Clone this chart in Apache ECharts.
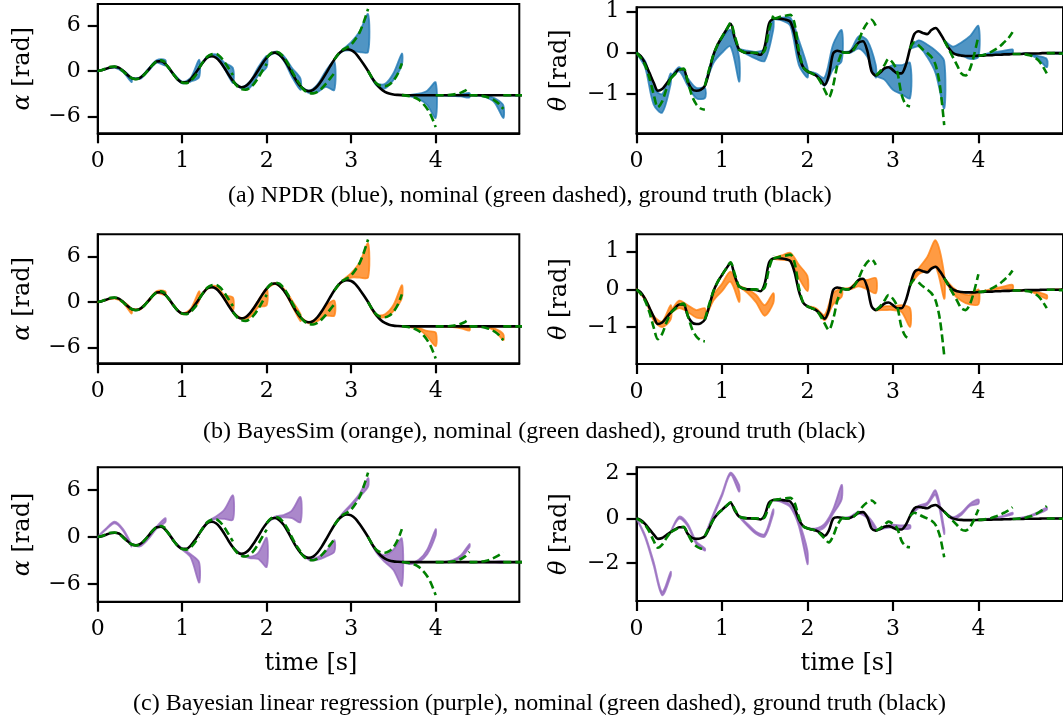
<!DOCTYPE html>
<html><head><meta charset="utf-8">
<script src="https://cdn.jsdelivr.net/npm/echarts@6/dist/echarts.min.js"></script>
<style>html,body{margin:0;padding:0;background:#fff}#c{width:1063px;height:719px}</style>
</head><body><div id="c"></div>
<script>
// ---------------- data ----------------
const SEG_LEN = 0.4, GT_DT = 0.05, NOM_DT = 0.05, BND_DT = 0.1;
const xTicks = [0, 1, 2, 3, 4];
const alphaTicks = [-6, 0, 6];
const thetaTicksAB = [-1, 0, 1];
const thetaTicksC = [-2, 0, 2];

// ground truth, sampled every 0.05 s from t = 0
const gtAlpha = [0.00,0.10,0.30,0.48,0.55,0.45,0.05,-0.50,-0.92,-1.05,-0.90,-0.45,0.15,0.80,1.25,1.30,0.95,0.30,-0.50,-1.15,
 -1.50,-1.50,-1.10,-0.40,0.40,1.20,1.80,1.95,1.75,1.20,0.40,-0.50,-1.30,-1.90,-2.15,-2.00,-1.50,-0.75,0.10,1.00,
 1.75,2.30,2.42,2.15,1.55,0.70,-0.30,-1.25,-2.00,-2.50,-2.65,-2.50,-2.00,-1.25,-0.35,0.60,1.50,2.25,2.70,2.86,
 2.75,2.35,1.65,0.85,0.00,-0.95,-1.75,-2.35,-2.75,-2.98,-3.10,-3.15,-3.18,-3.20,-3.20,-3.20,-3.20,-3.20,-3.20,-3.20,
 -3.20,-3.20,-3.20,-3.20,-3.20,-3.20,-3.20,-3.20,-3.20,-3.20,-3.20,-3.20,-3.20,-3.20,-3.20,-3.20,-3.20,-3.20,-3.20,-3.20,
 -3.20,-3.20,-3.20,-3.20,-3.20];
const gtTheta = [0.00,-0.08,-0.25,-0.48,-0.72,-0.92,-0.88,-0.75,-0.62,-0.50,-0.40,-0.40,-0.70,-0.88,-0.92,-0.90,-0.80,-0.45,-0.05,0.20,
 0.38,0.55,0.70,0.35,0.08,0.02,0.00,0.00,-0.02,-0.05,0.15,0.70,0.82,0.83,0.82,0.80,0.75,0.45,-0.05,-0.35,
 -0.45,-0.50,-0.55,-0.65,-0.78,-0.55,-0.02,0.05,0.02,0.00,0.02,0.12,0.25,0.28,0.05,-0.45,-0.55,-0.48,-0.38,-0.35,
 -0.42,-0.50,-0.50,-0.30,0.10,0.45,0.52,0.48,0.45,0.55,0.60,0.48,0.30,0.12,0.00,-0.05,-0.07,-0.08,-0.08,-0.08,
 -0.07,-0.07,-0.06,-0.06,-0.05,-0.05,-0.04,-0.04,-0.03,-0.03,-0.03,-0.02,-0.02,-0.02,-0.02,-0.01,-0.01,-0.01,-0.01,-0.01,
 0,0,0,0,0];

// nominal model, restarted every 0.4 s, sampled every 0.05 s
const nomAlpha = [
 [0.00,0.12,0.35,0.55,0.58,0.40,-0.05,-0.55,-0.95],
 [-0.92,-1.08,-0.95,-0.50,0.15,0.80,1.28,1.40,1.15],
 [0.95,0.30,-0.50,-1.15,-1.52,-1.60,-1.30,-0.70,0.05],
 [0.40,1.25,1.90,2.20,2.25,1.90,1.20,0.35,-0.55],
 [-1.30,-2.00,-2.38,-2.48,-2.25,-1.70,-0.90,0.05,0.95],
 [1.75,2.35,2.55,2.40,1.85,1.00,-0.05,-1.05,-1.85],
 [-2.00,-2.60,-2.90,-2.95,-2.75,-2.30,-1.70,-1.00,-0.30],
 [1.50,2.25,2.80,3.10,3.50,4.20,5.10,6.50,8.20],
 [0.00,-0.95,-1.65,-1.95,-2.00,-1.80,-1.30,-0.40,1.00],
 [-3.18,-3.25,-3.35,-3.50,-3.80,-4.30,-5.00,-6.00,-7.40],
 [-3.20,-3.20,-3.20,-3.18,-3.12,-3.02,-2.85,-2.60,-2.20],
 [-3.20,-3.20,-3.22,-3.28,-3.40,-3.60,-3.90,-4.35,-5.00],
 [-3.20,-3.20,-3.20,-3.20,-3.20,-3.20,-3.20,-3.20,-3.20]];
const nomTheta = [
 [0.00,-0.12,-0.30,-0.60,-1.00,-1.32,-1.18,-0.88,-0.62],
 [-0.62,-0.52,-0.42,-0.38,-0.70,-1.05,-1.25,-1.35,-1.38],
 [-0.80,-0.40,-0.05,0.20,0.38,0.55,0.72,0.40,0.05],
 [0.08,0.02,0.00,0.00,0.00,-0.02,0.05,0.55,0.90],
 [0.82,0.85,0.88,0.90,0.92,0.70,0.05,-0.35,-0.45],
 [-0.45,-0.50,-0.55,-0.70,-0.90,-1.08,-0.80,-0.30,0.00],
 [0.02,0.00,0.00,0.10,0.30,0.55,0.72,0.80,0.65],
 [-0.55,-0.45,-0.30,-0.15,-0.25,-0.45,-1.00,-1.25,-1.30],
 [0.10,0.25,0.18,0.08,0.00,-0.10,-0.30,-0.80,-1.75],
 [0.30,0.10,-0.10,-0.30,-0.50,-0.55,-0.40,-0.05,0.40],
 [-0.07,-0.06,-0.03,0.02,0.08,0.15,0.25,0.35,0.50],
 [-0.03,-0.03,-0.03,-0.04,-0.06,-0.10,-0.18,-0.32,-0.50],
 [-0.01,-0.01,-0.01,-0.02,-0.02,-0.03,-0.04,-0.05,-0.06]];
// nominal rollouts that differ in row (c)
const nomAlphaC10 = [-3.20,-3.20,-3.20,-3.18,-3.12,-3.00,-2.80,-2.45,-1.90];
const nomAlphaC11 = [-3.20,-3.20,-3.18,-3.12,-3.02,-2.85,-2.60,-2.30,-1.90];
const nomThetaC11 = [-0.03,-0.02,0.00,0.03,0.08,0.15,0.25,0.38,0.55];

// sample envelopes (low / high) per 0.4 s segment, sampled every 0.1 s
const npdrAlphaLo = [[0,0.25,0.45,-0.15,-1.45],[-0.92,-1.05,0.00,1.10,0.70],[0.95,-0.55,-1.65,-1.40,-0.80],[0.40,1.75,1.85,0.30,-1.60],
 [-1.30,-2.30,-2.20,-0.60,0.50],[1.75,2.35,1.40,-0.80,-2.50],[-2.00,-2.90,-2.80,-2.10,-2.50],[1.50,2.60,2.70,2.50,2.50],
 [0.00,-1.90,-2.30,-1.20,0.80],[-3.18,-3.35,-3.70,-4.50,-6.20],[-3.20,-3.25,-3.30,-3.35,-3.50],[-3.20,-3.25,-3.50,-4.20,-6.20],[-3.20,-3.22,-3.25,-3.25,-3.25]];
const npdrAlphaHi = [[0,0.32,0.58,0.10,-0.95],[-0.92,-0.85,0.30,1.45,1.45],[0.95,-0.35,-1.40,-0.90,1.50],[0.40,1.95,2.20,1.10,0.40],
 [-1.30,-2.10,-1.40,0.50,2.00],[1.75,2.55,2.00,0.40,-1.00],[-2.00,-2.60,-1.80,0.00,1.30],[1.50,2.85,3.80,5.20,7.50],
 [0.00,-1.60,-1.70,-0.30,2.30],[-3.18,-3.15,-3.00,-2.60,-1.50],[-3.20,-3.18,-3.15,-3.10,-2.90],[-3.20,-3.18,-3.25,-3.60,-4.50],[-3.20,-3.18,-3.15,-3.15,-3.15]];
const npdrThetaLo = [[0,-0.35,-1.25,-1.45,-0.75],[-0.62,-0.45,-0.80,-1.10,-1.10],[-0.80,-0.25,0.00,0.15,-0.70],[0.08,-0.05,-0.15,-0.20,0.55],
 [0.82,0.78,0.65,-0.30,-0.60],[-0.45,-0.55,-0.80,-0.40,-0.20],[0.02,0.00,0.10,-0.10,-0.60],[-0.55,-0.65,-0.90,-1.00,-1.10],
 [0.10,0.15,-0.10,-0.50,-1.35],[0.30,0.00,-0.05,-0.15,-0.10],[-0.07,-0.04,-0.02,0.00,0.00],[-0.03,-0.03,-0.05,-0.15,-0.35],[-0.01,-0.02,-0.03,-0.04,-0.05]];
const npdrThetaHi = [[0,-0.20,-0.85,-1.00,-0.50],[-0.62,-0.35,-0.62,-0.85,-0.85],[-0.80,-0.05,0.35,0.55,-0.10],[0.08,0.05,0.02,0.10,0.85],
 [0.82,0.85,0.85,0.30,-0.35],[-0.45,-0.50,-0.60,0.20,0.55],[0.02,0.05,0.40,0.30,-0.30],[-0.55,-0.40,-0.30,-0.30,-0.25],
 [0.10,0.30,0.20,0.05,-0.20],[0.30,0.15,0.25,0.40,0.65],[-0.07,-0.02,0.02,0.05,0.08],[-0.03,-0.02,-0.02,-0.08,-0.15],[-0.01,0.00,0.00,0.00,0.00]];

const bsAlphaLo = [[0,0.25,0.45,-0.10,-1.50],[-0.92,-1.00,0.05,1.15,0.90],[0.95,-0.55,-1.60,-1.20,0.10],[0.40,1.75,1.85,0.40,-1.10],
 [-1.30,-2.25,-2.00,-0.70,-0.40],[1.75,2.35,1.50,-0.50,-2.50],[-2.00,-2.80,-2.50,-1.80,-1.80],[1.50,2.70,3.20,3.20,3.20],
 [0.00,-1.85,-2.00,-1.20,0.50],[-3.18,-3.30,-3.60,-4.50,-5.80],[-3.20,-3.25,-3.30,-3.45,-3.75],[-3.20,-3.22,-3.30,-3.80,-5.00],[-3.20,-3.21,-3.22,-3.22,-3.22]];
const bsAlphaHi = [[0,0.32,0.58,0.10,-0.90],[-0.92,-0.85,0.25,1.45,1.40],[0.95,-0.40,-1.45,-0.90,1.40],[0.40,1.90,2.10,0.90,0.60],
 [-1.30,-2.10,-1.50,0.20,1.80],[1.75,2.50,1.80,0.20,-1.60],[-2.00,-2.65,-2.00,-0.50,0.20],[1.50,2.85,3.80,5.20,7.70],
 [0.00,-1.65,-1.60,-0.40,2.20],[-3.18,-3.25,-3.40,-3.80,-4.00],[-3.20,-3.20,-3.20,-3.25,-3.30],[-3.20,-3.20,-3.25,-3.50,-4.20],[-3.20,-3.19,-3.18,-3.18,-3.18]];
const bsThetaLo = [[0,-0.28,-0.82,-1.00,-0.80],[-0.62,-0.50,-0.60,-0.75,-0.75],[-0.80,-0.30,-0.05,0.20,-0.33],[0.08,-0.10,-0.35,-0.70,-0.37],
 [0.82,0.78,0.75,0.30,-0.05],[-0.45,-0.55,-0.82,-0.40,-0.20],[0.02,0.00,0.08,0.00,-0.10],[-0.55,-0.55,-0.55,-0.60,-1.00],
 [0.10,0.40,0.50,0.60,-0.25],[0.30,-0.10,-0.30,-0.40,-0.40],[-0.07,-0.04,0.00,0.02,0.00],[-0.03,-0.03,-0.05,-0.15,-0.25],[-0.01,-0.02,-0.02,-0.02,-0.02]];
const bsThetaHi = [[0,-0.22,-0.70,-0.85,-0.42],[-0.62,-0.30,-0.42,-0.55,-0.50],[-0.80,-0.15,0.15,0.47,-0.05],[0.08,0.00,-0.15,-0.42,-0.10],
 [0.82,0.90,0.97,0.65,0.35],[-0.45,-0.50,-0.68,-0.10,0.00],[0.02,0.05,0.25,0.25,0.30],[-0.55,-0.45,-0.45,-0.42,-0.50],
 [0.10,0.55,0.85,1.30,0.40],[0.30,0.05,-0.10,-0.15,0.00],[-0.07,-0.02,0.03,0.08,0.12],[-0.03,-0.02,-0.03,-0.08,-0.15],[-0.01,0.00,0.00,0.00,0.00]];

const blrAlphaLo = [[0,0.95,1.75,0.80,-1.20],[-0.92,-1.20,-0.25,1.10,1.90],[0.95,-0.55,-1.60,-2.60,-5.80],[0.40,1.80,2.30,2.30,2.20],
 [-1.30,-2.30,-2.70,-2.80,-3.80],[1.75,2.45,2.50,2.40,1.90],[-2.00,-2.90,-2.90,-2.50,-1.90],[1.50,2.85,3.90,5.10,6.40],
 [0.00,-2.00,-3.20,-4.20,-6.20],[-3.18,-3.45,-3.20,-2.20,0.20],[-3.20,-3.22,-3.10,-2.60,-1.30],[-3.20,-3.22,-3.25,-3.25,-3.30],[-3.20,-3.21,-3.22,-3.22,-3.22]];
const blrAlphaHi = [[0,1.10,1.95,1.00,-0.95],[-0.92,-1.00,-0.05,1.35,2.40],[0.95,-0.45,-1.45,-2.20,-3.20],[0.40,2.00,2.60,3.50,5.30],
 [-1.30,-2.15,-2.50,-2.00,-0.10],[1.75,2.60,2.80,3.40,5.10],[-2.00,-2.70,-2.60,-1.90,-0.40],[1.50,3.05,4.20,5.50,7.50],
 [0.00,-1.80,-2.30,-1.60,-0.20],[-3.18,-3.35,-2.90,-1.60,1.00],[-3.20,-3.18,-2.95,-2.30,-0.90],[-3.20,-3.18,-3.15,-3.12,-3.10],[-3.20,-3.19,-3.18,-3.18,-3.18]];
const blrThetaLo = [[0,-0.85,-2.10,-3.45,-2.60],[-0.62,-0.02,-0.35,-1.15,-1.45],[-0.80,0.10,1.00,1.95,1.20],[0.08,-0.35,-0.70,-0.82,0.20],
 [0.82,0.72,0.50,-0.35,-2.05],[-0.45,-0.55,-0.40,0.20,0.85],[0.02,0.00,0.20,0.00,-0.55],[-0.55,-0.45,-0.40,-0.48,-0.45],
 [0.10,0.45,0.60,1.05,-0.70],[0.30,-0.05,0.15,0.55,0.65],[-0.07,-0.05,0.00,0.08,0.18],[-0.03,0.00,0.08,0.20,0.38],[-0.01,-0.01,-0.01,-0.01,-0.01]];
const blrThetaHi = [[0,-0.75,-1.95,-3.30,-2.40],[-0.62,0.08,-0.25,-1.05,-1.35],[-0.80,0.20,1.10,2.05,1.50],[0.08,-0.25,-0.60,-0.70,0.40],
 [0.82,0.80,0.60,-0.15,-1.45],[-0.45,-0.45,-0.25,0.40,1.50],[0.02,0.08,0.30,0.12,-0.40],[-0.55,-0.38,-0.28,-0.32,-0.30],
 [0.10,0.55,0.70,1.25,-0.45],[0.30,0.05,0.25,0.65,0.85],[-0.07,-0.03,0.03,0.12,0.25],[-0.03,0.03,0.12,0.28,0.48],[-0.01,0.00,0.00,0.00,0.00]];

const captions = [
 '(a) NPDR (blue), nominal (green dashed), ground truth (black)',
 '(b) BayesSim (orange), nominal (green dashed), ground truth (black)',
 '(c) Bayesian linear regression (purple), nominal (green dashed), ground truth (black)'];
const timeLabel = 'time [s]';

// ---------------- build ----------------
const nomAlphaC = nomAlpha.map((s, i) => i === 10 ? nomAlphaC10 : i === 11 ? nomAlphaC11 : s);
const nomThetaC = nomTheta.map((s, i) => i === 11 ? nomThetaC11 : s);

const segT = (s, i, dt) => +(s * SEG_LEN + i * dt).toFixed(3);
const gtData = vals => vals.map((v, i) => [+(i * GT_DT).toFixed(3), v]);
function nomData(segs) {
  const out = [];
  segs.forEach((seg, s) => {
    seg.forEach((v, i) => out.push([segT(s, i, NOM_DT), v]));
    out.push([segT(s, seg.length - 1, NOM_DT), null]);
  });
  return out;
}

const FONT = 'DejaVu Serif';
const minus = v => (v < 0 ? '\u2212' + (-v) : '' + v);

const panels = [
  {left: 97.7, top: 4, width: 421.6, height: 129.3, xmax: 4.99, ymin: -8.22, ymax: 8.84, ticks: alphaTicks, name: 'α', gt: gtAlpha, nom: nomAlpha, lo: npdrAlphaLo, hi: npdrAlphaHi, color: '#1f77b4'},
  {left: 636.5, top: 7.3, width: 428, height: 126, xmax: 4.99, ymin: -1.95, ymax: 1.10, ticks: thetaTicksAB, name: 'θ', gt: gtTheta, nom: nomTheta, lo: npdrThetaLo, hi: npdrThetaHi, color: '#1f77b4'},
  {left: 97.7, top: 234.3, width: 421.6, height: 129, xmax: 4.99, ymin: -8.04, ymax: 8.88, ticks: alphaTicks, name: 'α', gt: gtAlpha, nom: nomAlpha, lo: bsAlphaLo, hi: bsAlphaHi, color: '#ff7f0e'},
  {left: 636.5, top: 234.3, width: 428, height: 129.7, xmax: 4.99, ymin: -1.98, ymax: 1.46, ticks: thetaTicksAB, name: 'θ', gt: gtTheta, nom: nomTheta, lo: bsThetaLo, hi: bsThetaHi, color: '#ff7f0e'},
  {left: 97.7, top: 467.3, width: 421.6, height: 134.4, xmax: 4.99, ymin: -8.23, ymax: 8.87, ticks: alphaTicks, name: 'α', gt: gtAlpha, nom: nomAlphaC, lo: blrAlphaLo, hi: blrAlphaHi, color: '#9467bd'},
  {left: 636.5, top: 467.3, width: 428, height: 133.7, xmax: 4.99, ymin: -3.71, ymax: 2.29, ticks: thetaTicksC, name: 'θ', gt: gtTheta, nom: nomThetaC, lo: blrThetaLo, hi: blrThetaHi, color: '#9467bd'}
];

const grid = [], xAxis = [], yAxis = [], series = [];
panels.forEach((p, g) => {
  grid.push({left: p.left, top: p.top, width: p.width, height: p.height, show: true,
    borderColor: '#000', borderWidth: 2});
  xAxis.push({gridIndex: g, type: 'value', min: 0, max: p.xmax,
    axisLine: {show: true, onZero: false, lineStyle: {color: '#000', width: 2}}, splitLine: {show: false},
    axisTick: {show: true, length: 10, customValues: xTicks, lineStyle: {color: '#000', width: 2.2}},
    axisLabel: {customValues: xTicks, margin: 17, fontFamily: FONT, fontSize: 22, color: '#000', formatter: minus}});
  yAxis.push({gridIndex: g, type: 'value', min: p.ymin, max: p.ymax,
    axisLine: {show: true, onZero: false, lineStyle: {color: '#000', width: 2}}, splitLine: {show: false},
    axisTick: {show: true, length: 10, customValues: p.ticks, lineStyle: {color: '#000', width: 2.2}},
    axisLabel: {customValues: p.ticks, margin: 17, fontFamily: FONT, fontSize: 22, color: '#000', formatter: minus},
    name: '{i|' + p.name + '} [rad]', nameLocation: 'middle', nameRotate: 90, nameGap: g % 2 ? 65 : 63,
    nameTextStyle: {fontFamily: FONT, fontSize: 24, color: '#000',
      rich: {i: {fontFamily: FONT, fontSize: 24, fontStyle: 'italic', color: '#000'}}}});

  const lo = p.lo, hi = p.hi, color = p.color;
  series.push({type: 'custom', xAxisIndex: g, yAxisIndex: g, clip: true, z: 1, silent: true,
    data: lo.map((seg, s) => [s * SEG_LEN, seg[0]]), encode: {x: 0, y: 1},
    renderItem: (params, api) => {
      const s = params.dataIndex, pts = [];
      hi[s].forEach((v, i) => pts.push(api.coord([segT(s, i, BND_DT), v])));
      for (let i = lo[s].length - 1; i >= 1; i--) pts.push(api.coord([segT(s, i, BND_DT), lo[s][i]]));
      return {type: 'polygon', shape: {points: pts, smooth: 0.3},
        style: {fill: color, stroke: color, lineWidth: 1.8, opacity: 0.78}};
    }});
  series.push({type: 'line', xAxisIndex: g, yAxisIndex: g, data: gtData(p.gt), showSymbol: false, z: 3,
    smooth: 0.3, lineStyle: {color: '#000', width: 2.6}, silent: true, clip: true});
  series.push({type: 'line', xAxisIndex: g, yAxisIndex: g, data: nomData(p.nom), showSymbol: false, z: 4,
    smooth: 0.3, connectNulls: false, lineStyle: {color: '#008000', width: 2.6, type: [8, 4]}, silent: true, clip: true});
});

const txt = (text, x, y, font, align) => ({type: 'text', x, y, silent: true,
  style: {text, font, fill: '#000', align: align, textAlign: align, verticalAlign: 'middle', textVerticalAlign: 'middle'}});
const capFont = '24px "Liberation Serif"';
const graphic = [
  txt(captions[0], 228, 196, capFont, 'left'),
  txt(captions[1], 203, 432, capFont, 'left'),
  txt(captions[2], 133, 704, capFont, 'left'),
  txt(timeLabel, 311, 664, '24px "DejaVu Serif"', 'center'),
  txt(timeLabel, 847, 664, '24px "DejaVu Serif"', 'center')
];

const chart = echarts.init(document.getElementById('c'), null, {renderer: 'canvas'});
chart.setOption({animation: false, backgroundColor: '#fff', grid, xAxis, yAxis, series, graphic});
</script></body></html>
